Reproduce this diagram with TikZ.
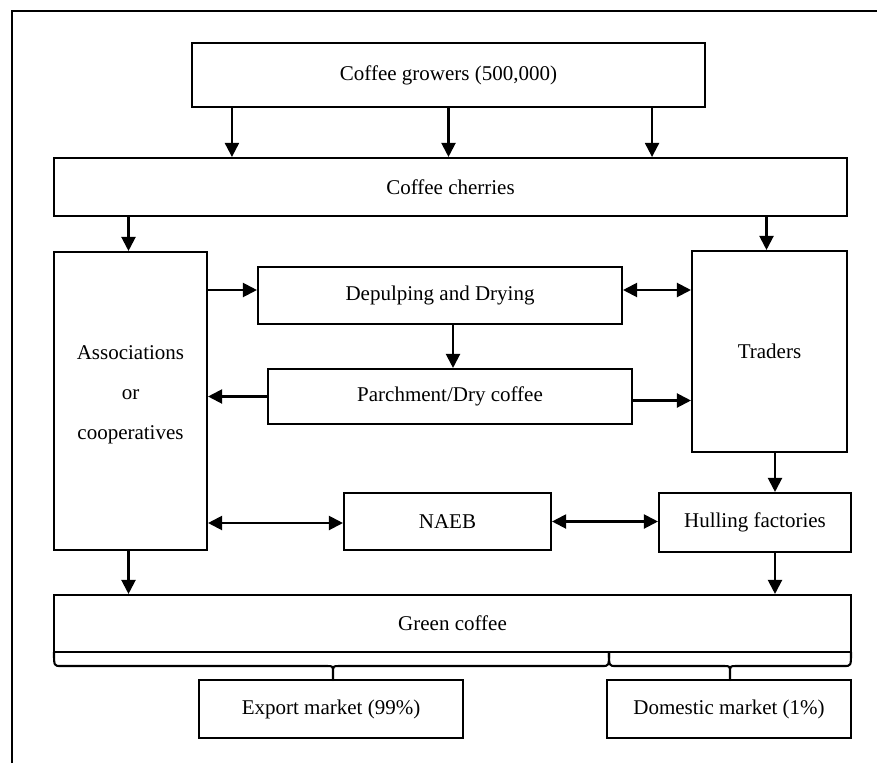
\documentclass[tikz,border=0pt]{standalone}
\usepackage{fontspec}
\setmainfont{Liberation Serif}
\usetikzlibrary{arrows.meta}
\begin{document}
\begin{tikzpicture}[x=1pt,y=-1pt,
  box/.style={draw,line width=2.1pt,inner sep=0pt,font=\fontsize{21}{40}\selectfont,align=center},
  arr/.style={line width=2.1pt,-{Triangle[length=14pt,width=14pt]}},
  darr/.style={line width=2.1pt,{Triangle[length=14pt,width=14pt]}-{Triangle[length=14pt,width=14pt]}},
  bracepath/.style={line width=2.1pt,line join=round}]
\useasboundingbox (0,0) rectangle (877,763);
% outer frame (cut at right and bottom)
\draw[line width=2.1pt] (12,763) -- (12,11) -- (877,11);

\node[box,minimum width=513pt,minimum height=64pt] (growers) at (448.5,75) {Coffee growers (500,000)};
\node[box,minimum width=793pt,minimum height=58pt] (cherries) at (450.5,187) {Coffee cherries};
\node[box,minimum width=153pt,minimum height=298pt] (assoc) at (130.5,401) {Associations\\or\\cooperatives\rule[-16pt]{0pt}{0pt}};
\node[box,minimum width=364pt,minimum height=57pt] (depulp) at (440,295.5) {Depulping and Drying};
\node[box,minimum width=364pt,minimum height=55pt] (parch) at (450,396.5) {Parchment/Dry coffee};
\node[box,minimum width=155pt,minimum height=201pt] (traders) at (769.5,351.5) {Traders};
\node[box,minimum width=207pt,minimum height=57pt] (naeb) at (447.5,521.5) {NAEB};
\node[box,minimum width=192pt,minimum height=59pt] (hulling) at (755,522.5) {Hulling factories};
\node[box,minimum width=797pt,minimum height=57pt] (green) at (452.5,623.5) {Green coffee};
\node[box,minimum width=264pt,minimum height=58pt] (export) at (331,709) {Export market (99\%)};
\node[box,minimum width=244pt,minimum height=58pt] (domestic) at (729,709) {Domestic market (1\%)};

% arrows
\draw[arr] ([xshift=41pt]growers.south west) -- ([xshift=41pt]growers.south west |- cherries.north);
\draw[arr] (growers.south) -- (growers.south |- cherries.north);
\draw[arr] ([xshift=-54pt]growers.south east) -- ([xshift=-54pt]growers.south east |- cherries.north);
\draw[arr] ([xshift=-2pt]assoc.north |- cherries.south) -- ([xshift=-2pt]assoc.north);
\draw[arr] ([xshift=-3pt]traders.north |- cherries.south) -- ([xshift=-3pt]traders.north);
\draw[arr] ([yshift=5.5pt]depulp.west -| assoc.east) -- ([yshift=5.5pt]depulp.west);
\draw[darr] ([yshift=5.5pt]depulp.east) -- ([yshift=5.5pt]depulp.east -| traders.west);
\draw[arr] ([xshift=3pt]parch.north |- depulp.south) -- ([xshift=3pt]parch.north);
\draw[arr] (parch.west) -- (parch.west -| assoc.east);
\draw[arr] ([yshift=-4pt]parch.east) -- ([yshift=-4pt]parch.east -| traders.west);
\draw[arr] ([xshift=5.5pt]traders.south) -- ([xshift=5.5pt]traders.south |- hulling.north);
\draw[darr] ([yshift=-1.5pt]naeb.west -| assoc.east) -- ([yshift=-1.5pt]naeb.west);
\draw[darr] (naeb.east) -- (naeb.east -| hulling.west);
\draw[arr] ([xshift=20pt]hulling.south) -- ([xshift=20pt]hulling.south |- green.north);
\draw[arr] ([xshift=-2pt]assoc.south) -- ([xshift=-2pt]assoc.south |- green.north);

% braces
\draw[bracepath] (54,652) .. controls (54,666) .. (61,666) -- (327,666)
  .. controls (333,666) .. (333,673) -- (333,680) -- (333,673)
  .. controls (333,666) .. (339,666) -- (602,666) .. controls (609,666) .. (609,652);
\draw[bracepath] (609,652) .. controls (609,666) .. (616,666) -- (724,666)
  .. controls (730,666) .. (730,673) -- (730,680) -- (730,673)
  .. controls (730,666) .. (736,666) -- (844,666) .. controls (851,666) .. (851,652);
\end{tikzpicture}
\end{document}
